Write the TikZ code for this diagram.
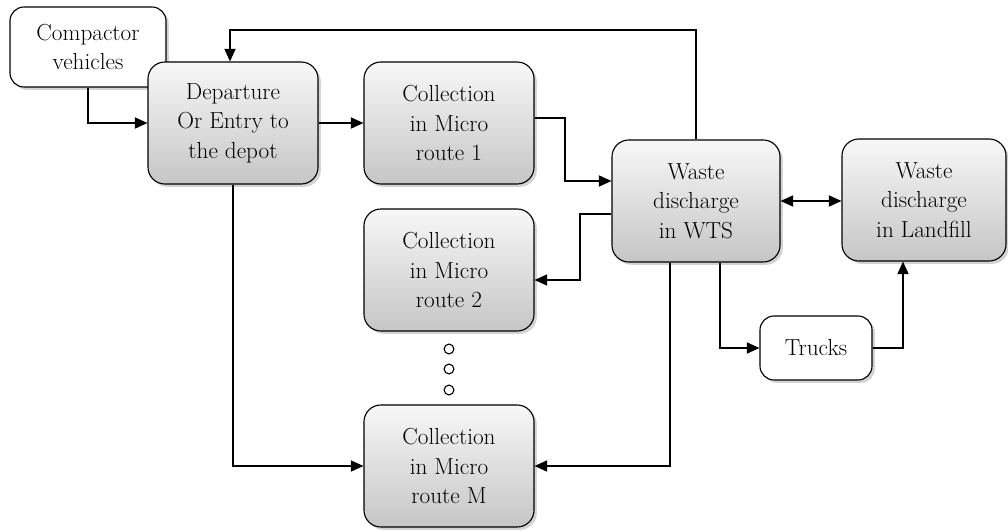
\documentclass[tikz,border=0pt]{standalone}
\usetikzlibrary{arrows.meta,shadows}

\begin{document}
\begin{tikzpicture}[x=0.025cm, y=-0.025cm,
    every node/.style={font=\rmfamily\fontsize{16.5}{21}\selectfont, align=center},
    stage/.style={draw, thick, rounded corners=12pt, top color=gray!6, bottom color=gray!45,
      drop shadow={opacity=0.35, shadow xshift=2pt, shadow yshift=-2pt},
      minimum width=4.25cm, minimum height=3.05cm, inner sep=2pt},
    plain/.style={draw, thick, rounded corners=10pt, fill=white,
      drop shadow={opacity=0.35, shadow xshift=2pt, shadow yshift=-2pt}},
    link/.style={draw, thick, -{Triangle[length=9pt, width=8pt]}}]
  \useasboundingbox (0,0) rectangle (1008,532);

  % Boxes
  \node[plain, minimum width=3.9cm, minimum height=2cm] (vehicles) at (88,47) {Compactor\\vehicles};
  \node[stage] (depot) at (233,123) {Departure\\Or Entry to\\the depot};
  \node[stage] (route1) at (449,123) {Collection\\in Micro\\route 1};
  \node[stage] (route2) at (449,270) {Collection\\in Micro\\route 2};
  \node[stage] (routeM) at (449,466) {Collection\\in Micro\\route M};
  \node[stage, minimum width=4.2cm] (wts) at (696,201) {Waste\\discharge\\in WTS};
  \node[stage, minimum width=4.1cm] (landfill) at (924,200) {Waste\\discharge\\in Landfill};
  \node[plain, minimum width=2.8cm, minimum height=1.6cm] (trucks) at (816,348) {Trucks};

  % Dots between routes
  \foreach \y [count=\n] in {349,369,390} {
    \node[draw, thick, circle, inner sep=0pt, minimum size=7pt] (dot\n) at (449,\y) {};
  }

  % Connectors
  \draw[link] (vehicles.south) |- (depot.west);
  \draw[link] (wts.north) |- (230,30) coordinate (top) -- (top |- depot.north);
  \draw[link] (depot.east) -- (route1.west);
  \draw[link] (route1.east |- 0,118) -| (565,181) coordinate (bend1) -- (bend1 -| wts.west);
  \draw[link] (wts.west |- 0,214) -| (580,280) coordinate (bend2) -- (bend2 -| route2.east);
  \draw[link] (depot.south) |- (routeM.west);
  \draw[link] (wts.south -| 670,0) |- (routeM.east);
  \draw[link] (wts.south -| 720,0) |- (trucks.west);
  \draw[link] (trucks.east) -| (landfill.south -| 903,0);
  \draw[link, {Triangle[length=9pt, width=8pt]}-{Triangle[length=9pt, width=8pt]}] (wts.east) -- (landfill.west |- wts.east);
\end{tikzpicture}
\end{document}
